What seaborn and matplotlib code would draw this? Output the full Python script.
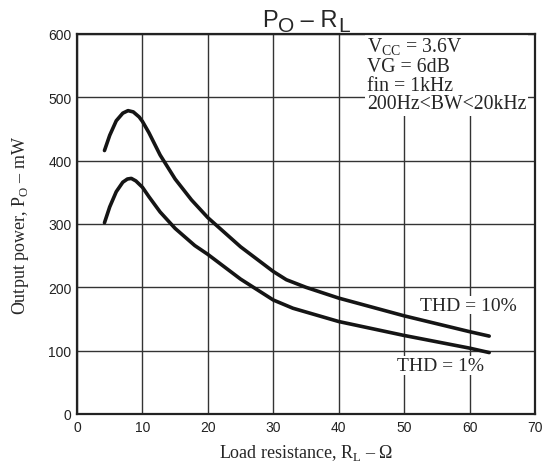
import matplotlib
matplotlib.use("Agg")
import matplotlib.pyplot as plt
import seaborn as sns
import pandas as pd

# Data
r_thd10 = [4.2, 5, 6, 7, 7.8, 8.6, 9.5, 10, 11, 12.7, 15, 17.5, 20, 25, 30, 32, 35, 40, 50, 60, 63]
p_thd10 = [416, 440, 463, 475, 479, 477, 469, 462, 444, 409, 371, 338, 310, 264, 225, 212, 200, 183, 155, 130, 123]
r_thd1 = [4.2, 5, 6, 7, 7.7, 8.3, 9, 10, 11, 12.7, 15, 18, 20, 25, 30, 33, 40, 50, 60, 63]
p_thd1 = [302, 327, 351, 366, 371, 372, 368, 358, 343, 319, 293, 266, 252, 213, 180, 167, 146, 124, 104, 97]
x_ticks = [0, 10, 20, 30, 40, 50, 60, 70]
y_ticks = [0, 100, 200, 300, 400, 500, 600]
cond_lines = [r"V$_\mathrm{CC}$ = 3.6V", "VG = 6dB", "fin = 1kHz", "200Hz<BW<20kHz"]
title_parts = [("P", False), ("O", True), (" – R", False), ("L", True)]

sns.set_style("white")
plt.rcParams["mathtext.fontset"] = "custom"
plt.rcParams["mathtext.rm"] = "Liberation Serif"
plt.rcParams["mathtext.sf"] = "Liberation Sans"
plt.rcParams["font.family"] = ["Liberation Sans", "DejaVu Sans"]

df = pd.concat([
    pd.DataFrame({"R": r_thd10, "P": p_thd10, "curve": "THD = 10%"}),
    pd.DataFrame({"R": r_thd1, "P": p_thd1, "curve": "THD = 1%"}),
])

fig = plt.figure(figsize=(5.43, 4.64), dpi=100)
ax = fig.add_axes([77/543, 49/464, (535-77)/543, (415-35)/464])

sns.lineplot(data=df, x="R", y="P", hue="curve", palette=["#151515", "#151515"],
             linewidth=2.6, legend=False, ax=ax, sort=False, zorder=3)

ax.set_xlim(0, 70)
ax.set_ylim(0, 600)
ax.set_xticks(x_ticks)
ax.set_yticks(y_ticks)
ax.tick_params(length=0, labelsize=10, pad=4, colors="#222222")
ax.grid(True, color="#333333", linewidth=1.0)
ax.set_axisbelow(True)
for s in ax.spines.values():
    s.set_color("#222222")
    s.set_linewidth(1.6)
    s.set_zorder(5)

serif = ["Liberation Serif", "DejaVu Serif"]
ax.set_xlabel(r"Load resistance, R$_\mathrm{L}$ – Ω", fontsize=13, family=serif, labelpad=6)
ax.set_ylabel(r"Output power, P$_\mathrm{O}$ – mW", fontsize=13, family=serif, labelpad=12)

# Title built from pieces so subscripts stay large as in the reference
fig.canvas.draw()
renderer = fig.canvas.get_renderer()
pieces = []
for txt, sub in title_parts:
    t = fig.text(0, 0, txt, fontsize=(15 if sub else 17), va="baseline", ha="left")
    pieces.append((t, sub))
widths = [t.get_window_extent(renderer).width for t, _ in pieces]
x = 306 - sum(widths) / 2
for (t, sub), w in zip(pieces, widths):
    baseline_px = 27 + (5 if sub else 0)
    t.set_position((x / 543, (464 - baseline_px) / 464))
    x += w

ax.text(44.3, 597, "\n".join(cond_lines), fontsize=14.2, family=serif, va="top", ha="left",
        linespacing=0.98, zorder=2,
        bbox=dict(facecolor="white", edgecolor="none", pad=1.5))
ax.text(59.8, 172, "THD = 10%", fontsize=14, family=serif, ha="center", va="center", zorder=2,
        bbox=dict(facecolor="white", edgecolor="none", pad=0.5))
ax.text(55.5, 77, "THD = 1%", fontsize=14, family=serif, ha="center", va="center", zorder=2,
        bbox=dict(facecolor="white", edgecolor="none", pad=0.5))

fig.savefig("out.png", dpi=100)
